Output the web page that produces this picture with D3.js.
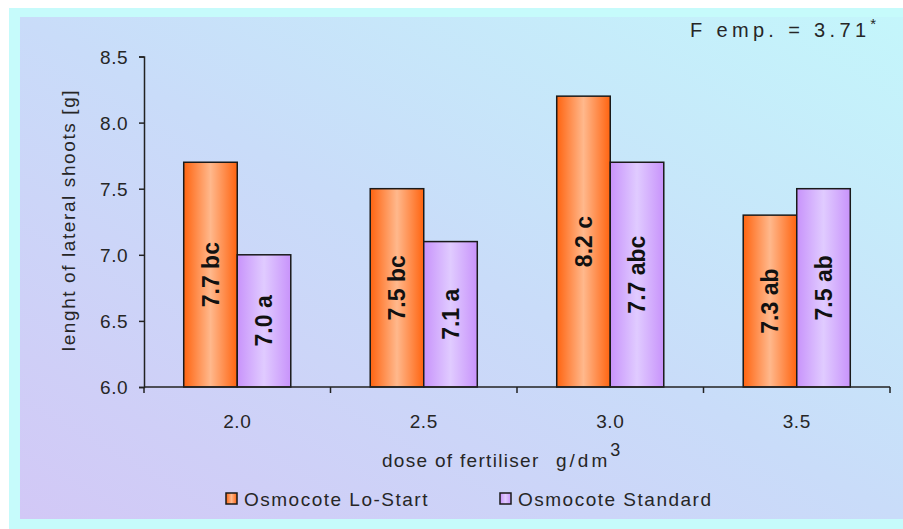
<!DOCTYPE html>
<html>
<head>
<meta charset="utf-8">
<script src="https://cdn.jsdelivr.net/npm/d3@7"></script>
<style>
  html, body { margin: 0; padding: 0; background: #ffffff; }
  svg { display: block; }
  text { font-family: "Liberation Sans", Arial, sans-serif; fill: #262626; }
</style>
</head>
<body>
<svg id="chart" width="903" height="529"></svg>
<script>
// Fertiliser doses (categories) and the two product series
const doses = ["2.0", "2.5", "3.0", "3.5"];
const seriesNames = ["Osmocote Lo-Start", "Osmocote Standard"];
const loStart = [7.7, 7.5, 8.2, 7.3];
const standard = [7.0, 7.1, 7.7, 7.5];
const loStartLetters = ["bc", "bc", "c", "ab"];
const standardLetters = ["a", "a", "abc", "ab"];
const yTicks = [6.0, 6.5, 7.0, 7.5, 8.0, 8.5];

const rows = doses.map((d, i) => ({
  dose: d,
  values: [
    { key: seriesNames[0], value: loStart[i], letter: loStartLetters[i] },
    { key: seriesNames[1], value: standard[i], letter: standardLetters[i] }
  ]
}));

const svg = d3.select("#chart");
const defs = svg.append("defs");

// background: light cyan frame and a diagonal lavender-to-cyan panel
const bg = defs.append("linearGradient").attr("id", "bgGrad")
  .attr("x1", "0%").attr("y1", "100%").attr("x2", "100%").attr("y2", "0%");
bg.append("stop").attr("offset", "0%").attr("stop-color", "#d2c8f6");
bg.append("stop").attr("offset", "50%").attr("stop-color", "#c9dcf9");
bg.append("stop").attr("offset", "100%").attr("stop-color", "#c4f6fb");

// bar fills: darker edges, lighter middle
function barGradient(id, edge, mid) {
  const g = defs.append("linearGradient").attr("id", id)
    .attr("x1", "0%").attr("y1", "0%").attr("x2", "100%").attr("y2", "0%");
  g.append("stop").attr("offset", "0%").attr("stop-color", edge);
  g.append("stop").attr("offset", "50%").attr("stop-color", mid);
  g.append("stop").attr("offset", "100%").attr("stop-color", edge);
}
barGradient("gradOrange", "#ff6410", "#ffb88c");
barGradient("gradPurple", "#c893fb", "#e0cbff");

svg.append("rect").attr("x", 9).attr("y", 8).attr("width", 894).attr("height", 521)
  .attr("fill", "#c6fbfb");
svg.append("rect").attr("x", 20).attr("y", 17).attr("width", 883).attr("height", 502)
  .attr("fill", "url(#bgGrad)");

// scales
const y = d3.scaleLinear().domain([6.0, 8.5]).range([387, 56.5]);
const x0 = d3.scaleBand().domain(doses).range([144, 890])
  .paddingInner(0.426).paddingOuter(0.213);
const x1 = d3.scaleBand().domain(seriesNames).range([0, x0.bandwidth()]);
const color = d3.scaleOrdinal().domain(seriesNames)
  .range(["url(#gradOrange)", "url(#gradPurple)"]);

// y axis
const yAxis = d3.axisLeft(y).tickValues(yTicks).tickFormat(d3.format(".1f"))
  .tickSize(5).tickPadding(11);
const gy = svg.append("g").attr("transform", "translate(144,0)").call(yAxis);
gy.select(".domain").attr("stroke", "#222").attr("stroke-width", 1.5);
gy.selectAll(".tick line").attr("stroke", "#222").attr("stroke-width", 1.5);
gy.selectAll(".tick text").attr("font-size", 19).attr("fill", "#2a2a2a")
  .attr("font-family", "Liberation Sans, Arial, sans-serif").attr("letter-spacing", 0.5)
  .attr("dy", "0.36em");

// bars
const groups = svg.append("g").selectAll("g").data(rows).join("g")
  .attr("transform", d => `translate(${x0(d.dose)},0)`);

groups.selectAll("rect").data(d => d.values).join("rect")
  .attr("x", d => x1(d.key))
  .attr("y", d => y(d.value))
  .attr("width", x1.bandwidth())
  .attr("height", d => y(6.0) - y(d.value))
  .attr("fill", d => color(d.key))
  .attr("stroke", "#1a1a1a")
  .attr("stroke-width", 1.5);

// value labels, rotated and centred in each bar
groups.selectAll("text.val").data(d => d.values).join("text")
  .attr("class", "val")
  .attr("transform", d => {
    const cx = x1(d.key) + x1.bandwidth() / 2;
    const cy = (y(d.value) + y(6.0)) / 2;
    return `translate(${cx},${cy}) rotate(-90)`;
  })
  .attr("text-anchor", "middle")
  .attr("dy", "0.36em")
  .attr("font-size", 23)
  .attr("font-weight", "bold")
  .style("fill", "#111")
  .text(d => `${d3.format(".1f")(d.value)} ${d.letter}`);

// x axis: baseline, boundary ticks, and centred category labels
const xr = x0.range();
svg.append("line").attr("x1", xr[0]).attr("x2", xr[1])
  .attr("y1", y(6.0)).attr("y2", y(6.0))
  .attr("stroke", "#222").attr("stroke-width", 1.5);
svg.append("g").selectAll("line").data(d3.range(doses.length + 1)).join("line")
  .attr("x1", i => xr[0] + i * x0.step()).attr("x2", i => xr[0] + i * x0.step())
  .attr("y1", y(6.0)).attr("y2", y(6.0) + 6)
  .attr("stroke", "#222").attr("stroke-width", 1.5);
svg.append("g").selectAll("text").data(doses).join("text")
  .attr("x", d => x0(d) + x0.bandwidth() / 2)
  .attr("y", 428)
  .attr("text-anchor", "middle")
  .attr("font-size", 19)
  .attr("letter-spacing", 0.5)
  .text(d => d);

// axis titles
svg.append("text")
  .attr("transform", "translate(75,220) rotate(-90)")
  .attr("text-anchor", "middle")
  .attr("font-size", 19)
  .attr("letter-spacing", 1.6)
  .text("lenght of lateral shoots [g]");

const xt = svg.append("text").attr("x", 382).attr("y", 467).attr("font-size", 19)
  .attr("letter-spacing", 1.3);
xt.append("tspan").text("dose of fertiliser");
xt.append("tspan").attr("x", 556).attr("letter-spacing", 3).text("g/dm");
xt.append("tspan").attr("dy", -11).attr("font-size", 18).text("3");

// statistic note
const note = svg.append("text").attr("x", 690).attr("y", 37).attr("font-size", 20);
note.append("tspan").attr("textLength", 176).attr("lengthAdjust", "spacing")
  .text("F emp. = 3.71");
note.append("tspan").attr("dy", -8).attr("font-size", 15).text("*");

// legend
const legendX = [226, 500];
const legend = svg.append("g").selectAll("g").data(seriesNames).join("g")
  .attr("transform", (d, i) => `translate(${legendX[i]},493)`);
legend.append("rect").attr("width", 11).attr("height", 11)
  .attr("fill", d => color(d)).attr("stroke", "#1a1a1a").attr("stroke-width", 1.5);
legend.append("text").attr("x", 18).attr("y", 13).attr("font-size", 19)
  .attr("letter-spacing", 1.5)
  .text(d => d);
</script>
</body>
</html>
